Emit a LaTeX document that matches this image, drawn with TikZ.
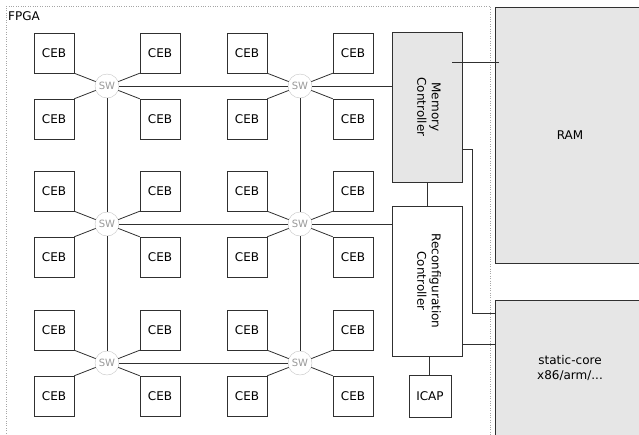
\documentclass[tikz,border=0pt]{standalone}
\usepackage{fontspec}
\setmainfont{DejaVu Sans}
\usepackage{graphicx}
\definecolor{boxgray}{HTML}{E6E6E6}
\definecolor{swgray}{HTML}{C4C4C4}
\definecolor{linegray}{HTML}{303030}
\begin{document}
\begin{tikzpicture}[x=1pt,y=-1pt]
    \tikzset{every node/.style={font=\fontsize{12}{14.5}\selectfont}}
    \tikzset{ceb/.style={draw=linegray, minimum size=40pt, inner sep=0pt}}
    \tikzset{sw/.style={draw=swgray, fill=white, circle, minimum size=24pt, inner sep=0pt, text=black!40, font=\fontsize{10}{12}\selectfont}}
    \tikzset{ctrl/.style={draw=linegray, minimum width=70pt, minimum height=150pt, inner sep=0pt}}
    \tikzset{ext/.style={draw=linegray, fill=boxgray, minimum width=150pt, inner sep=0pt, align=center}}
    \tikzset{wire/.style={linegray, line width=0.8pt}}

    \useasboundingbox (0,0) rectangle (639,434);

    % fpga frame
    \draw[dotted, black!35] (6,445) |- (490,6) -- (490,445);
    \node[anchor=north west, inner sep=0pt] (fpga) at (8,11) {FPGA};

    % switch clusters
    \foreach \c/\x in {1/107,2/300}
    \foreach \r/\y in {1/86,2/224,3/363} {
        \node[sw] (sw-\c-\r) at (\x,\y) {SW};
        \node[ceb] (ceb-\c-\r-a) at (\x-53,\y-33) {CEB};
        \node[ceb] (ceb-\c-\r-b) at (\x+53,\y-33) {CEB};
        \node[ceb] (ceb-\c-\r-c) at (\x-53,\y+33) {CEB};
        \node[ceb] (ceb-\c-\r-d) at (\x+53,\y+33) {CEB};
        \draw[wire] (sw-\c-\r) -- (ceb-\c-\r-a.south east);
        \draw[wire] (sw-\c-\r) -- (ceb-\c-\r-b.south west);
        \draw[wire] (sw-\c-\r) -- (ceb-\c-\r-c.north east);
        \draw[wire] (sw-\c-\r) -- (ceb-\c-\r-d.north west);
    }

    \node[ctrl, fill=boxgray] (mem) at (427.5,107) {\rotatebox{-90}{\begin{tabular}{@{}c@{}}Memory\\Controller\end{tabular}}};
    \node[ctrl, fill=white] (rcfg) at (427.5,281) {\rotatebox{-90}{\begin{tabular}{@{}c@{}}Reconfiguration\\Controller\end{tabular}}};
    \node[ceb, minimum size=42pt] (icap) at (430,396) {ICAP};

    \node[ext, minimum height=256pt] (ram) at (570,135) {RAM};
    \node[ext, minimum height=136pt] (core) at (570,368) {static-core\\x86/arm/...};

    % network
    \draw[wire] (sw-1-1) -- (sw-2-1);
    \draw[wire] (sw-1-2) -- (sw-2-2);
    \draw[wire] (sw-1-3) -- (sw-2-3);
    \draw[wire] (sw-1-1) -- (sw-1-2) -- (sw-1-3);
    \draw[wire] (sw-2-1) -- (sw-2-2) -- (sw-2-3);
    \draw[wire] (sw-2-1) -- (sw-2-1 -| mem.west);
    \draw[wire] (sw-2-2) -- (sw-2-2 -| rcfg.west);

    % controllers
    \draw[wire] (mem) -- (rcfg);
    \draw[wire] (rcfg.south -| 429,0) -- (icap.north -| 429,0);
    \coordinate (memtap) at (452,62);
    \coordinate (ramtap) at (499,62);
    \draw[wire] (memtap) -- (ramtap);
    \draw[wire] (mem.east |- 0,149) -- (472,149) |- (core.west |- 0,313);
    \draw[wire] (rcfg.east |- 0,344) -- (core.west |- 0,344);
\end{tikzpicture}
\end{document}
